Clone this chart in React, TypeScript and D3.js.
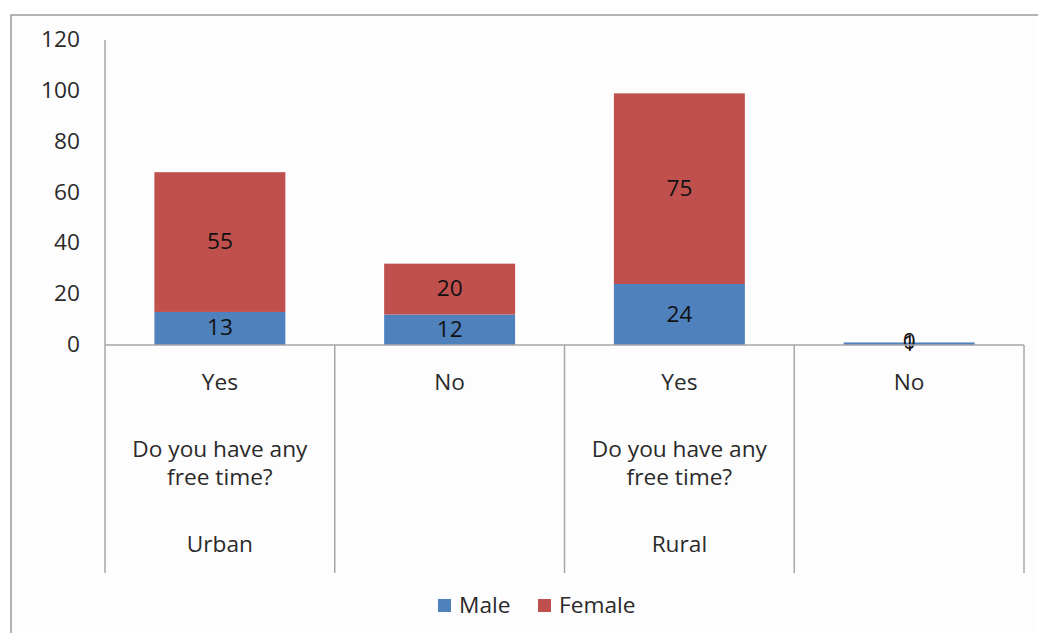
import React from "react";
import * as d3 from "d3";

const categories = ["Yes", "No", "Yes", "No"];
const questionLabels = [["Do you have any", "free time?"], [], ["Do you have any", "free time?"], []];
const areaLabels = ["Urban", "", "Rural", ""];
const maleValues = [13, 12, 24, 1];
const femaleValues = [55, 20, 75, 0];
const yTicks = [0, 20, 40, 60, 80, 100, 120];
const seriesNames = ["Male", "Female"];
const seriesColors = ["#4F81BD", "#C0504D"];

const W = 1038;
const H = 633;
const FONT = "'Open Sans', Lato, sans-serif";
const FS = 21;
const SX = 1.08;

function T(props: { x: number; y: number; anchor?: string; fill?: string; children: React.ReactNode }) {
  const { x, y, anchor = "middle", fill = "#2a2a2a", children } = props;
  return (
    <text
      transform={`translate(${x},${y}) scale(${SX},1)`}
      textAnchor={anchor}
      fontSize={FS}
      fill={fill}
    >
      {children}
    </text>
  );
}

export default function App() {
  const x = d3.scaleBand<number>().domain(d3.range(categories.length)).range([105, 1024]).padding(0);
  const y = d3.scaleLinear().domain([0, 120]).range([345, 40]);
  const bw = x.bandwidth() * 0.57;
  const axisColor = "#a6a6a6";

  const stacks = categories.map((_, i) => {
    const m = maleValues[i];
    const f = femaleValues[i];
    return [
      { y0: 0, y1: m, v: m, c: seriesColors[0] },
      { y0: m, y1: m + f, v: f, c: seriesColors[1] },
    ];
  });

  return (
    <svg width={W} height={H} style={{ position: "absolute", left: 0, top: 0, background: "#fff" }} fontFamily={FONT}>
      <rect x={11} y={15} width={W + 20} height={H + 20} fill="#fdfdfd" stroke="#9a9a9a" strokeWidth={1.5} />
      {stacks.map((segs, i) =>
        segs.map((s, j) => {
          const cx = (x(i) as number) + x.bandwidth() / 2;
          const top = y(s.y1);
          const h = y(s.y0) - y(s.y1);
          return (
            <g key={`${i}-${j}`}>
              {h > 0 && <rect x={cx - bw / 2} y={top} width={bw} height={Math.max(h, 0)} fill={s.c} />}
              <T x={cx} y={(y(s.y0) + y(s.y1)) / 2 + 7} fill="#111">{s.v}</T>
            </g>
          );
        })
      )}
      {/* axes */}
      <line x1={105} y1={40} x2={105} y2={573} stroke={axisColor} strokeWidth={1.5} />
      <line x1={105} y1={345} x2={1024} y2={345} stroke={axisColor} strokeWidth={1.5} />
      {categories.map((_, i) => (
        <line key={i} x1={(x(i) as number) + x.bandwidth()} y1={345} x2={(x(i) as number) + x.bandwidth()} y2={573} stroke={axisColor} strokeWidth={1.5} />
      ))}
      {yTicks.map((t) => (
        <T key={t} x={80} y={y(t) + 7} anchor="end">{t}</T>
      ))}
      {categories.map((c, i) => {
        const cx = (x(i) as number) + x.bandwidth() / 2;
        return (
          <g key={i}>
            <T x={cx} y={390}>{c}</T>
            {questionLabels[i].map((l, k) => (
              <T key={k} x={cx} y={457 + k * 28}>{l}</T>
            ))}
            {areaLabels[i] && <T x={cx} y={552}>{areaLabels[i]}</T>}
          </g>
        );
      })}
      {/* legend */}
      {seriesNames.map((n, i) => {
        const lx = [438, 538][i];
        return (
          <g key={n}>
            <rect x={lx} y={599} width={13} height={13} fill={seriesColors[i]} />
            <T x={lx + 21} y={613} anchor="start">{n}</T>
          </g>
        );
      })}
    </svg>
  );
}
